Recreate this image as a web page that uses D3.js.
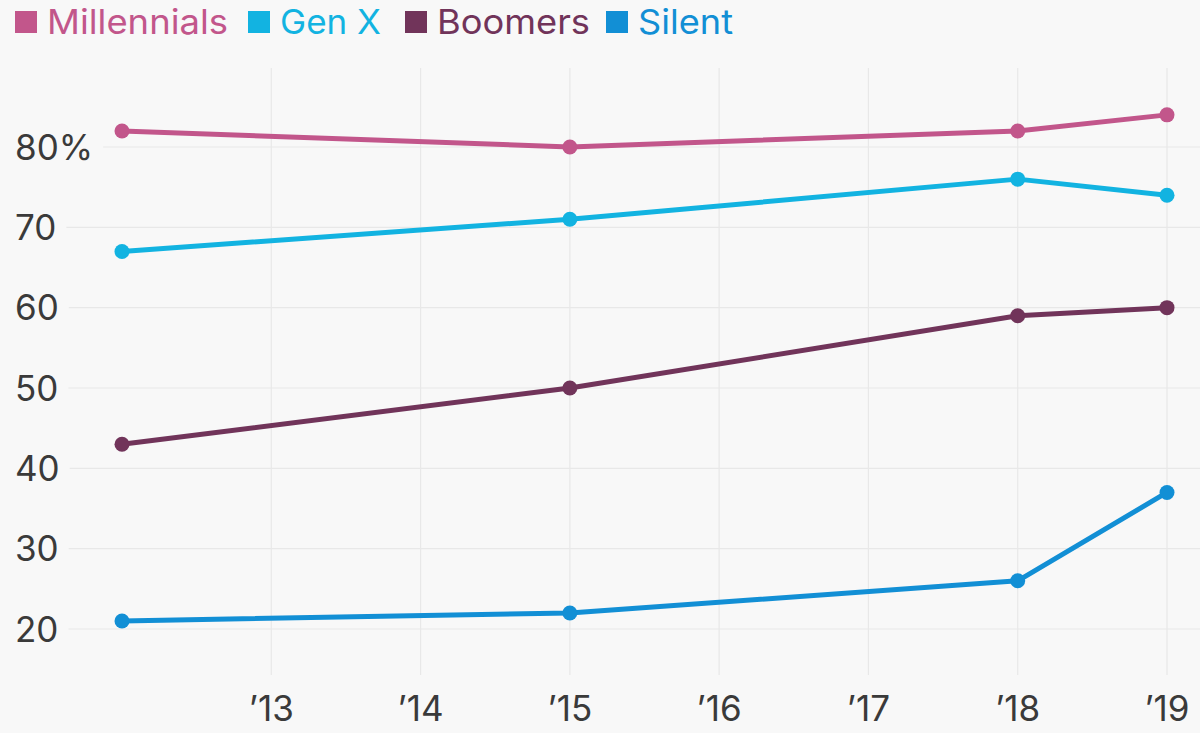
<!DOCTYPE html>
<html>
<head>
<meta charset="utf-8">
<script src="https://cdn.jsdelivr.net/npm/d3@7"></script>
<style>
  html, body { margin: 0; padding: 0; background: #f8f8f8; }
  svg { display: block; }
  text { font-family: Inter, "Noto Sans", sans-serif; }
</style>
</head>
<body>
<svg id="chart" width="1200" height="733"></svg>
<script>
const years = [2012, 2015, 2018, 2019];
const seriesNames = ["Millennials", "Gen X", "Boomers", "Silent"];
const millennials = [82, 80, 82, 84];
const genX = [67, 71, 76, 74];
const boomers = [43, 50, 59, 60];
const silent = [21, 22, 26, 37];
const colors = ["#c2568b", "#12b3e1", "#71345a", "#128fd5"];
const xTickYears = [2013, 2014, 2015, 2016, 2017, 2018, 2019];
const xTickLabels = ["’13", "’14", "’15", "’16", "’17", "’18", "’19"];
const yTicks = [20, 30, 40, 50, 60, 70, 80];
const yTickLabels = ["20", "30", "40", "50", "60", "70", "80%"];

const seriesValues = [millennials, genX, boomers, silent];

const svg = d3.select("#chart");
const x = d3.scaleLinear().domain([2012, 2019]).range([122, 1167]);
const y = d3.scaleLinear().domain([20, 80]).range([629, 147]);

// vertical grid
svg.append("g").selectAll("line").data(xTickYears).join("line")
  .attr("x1", d => x(d)).attr("x2", d => x(d))
  .attr("y1", 68).attr("y2", 675)
  .attr("stroke", "#e8e8e8").attr("stroke-width", 1.2);

// y labels + horizontal grid
const yg = svg.append("g");
yTicks.forEach((t, i) => {
  const lab = yg.append("text")
    .attr("x", 15).attr("y", y(t))
    .attr("dy", "0.36em")
    .attr("font-size", 35)
    .attr("fill", "#3a3a3a")
    .text(yTickLabels[i]);
  const w = lab.node().getComputedTextLength();
  yg.insert("line", "text")
    .attr("x1", 15 + w + 10).attr("x2", 1200)
    .attr("y1", y(t)).attr("y2", y(t))
    .attr("stroke", "#e8e8e8").attr("stroke-width", 1.2);
});

// x labels
svg.append("g").selectAll("text").data(xTickYears).join("text")
  .attr("x", d => x(d)).attr("y", 721)
  .attr("text-anchor", "middle")
  .attr("font-size", 35)
  .attr("fill", "#3a3a3a")
  .text((d, i) => xTickLabels[i]);

// lines
const line = d3.line().x(d => x(d[0])).y(d => y(d[1]));
seriesValues.forEach((vals, si) => {
  const pts = years.map((yr, i) => [yr, vals[i]]);
  const g = svg.append("g");
  g.append("path").attr("d", line(pts))
    .attr("fill", "none").attr("stroke", colors[si])
    .attr("stroke-width", 5).attr("stroke-linejoin", "round");
  g.selectAll("circle").data(pts).join("circle")
    .attr("cx", d => x(d[0])).attr("cy", d => y(d[1]))
    .attr("r", 7.5).attr("fill", colors[si]);
});

// legend
const legendX = [15, 248, 405, 606];
const legendW = [181, 101, 153, 95];
const lg = svg.append("g");
seriesNames.forEach((n, i) => {
  lg.append("rect").attr("x", legendX[i]).attr("y", 11)
    .attr("width", 22).attr("height", 22).attr("fill", colors[i]);
  lg.append("text").attr("x", legendX[i] + 32).attr("y", 22)
    .attr("dy", "0.36em").attr("font-size", 34)
    .attr("textLength", legendW[i]).attr("lengthAdjust", "spacingAndGlyphs")
    .attr("fill", colors[i]).text(n);
});
</script>
</body>
</html>
